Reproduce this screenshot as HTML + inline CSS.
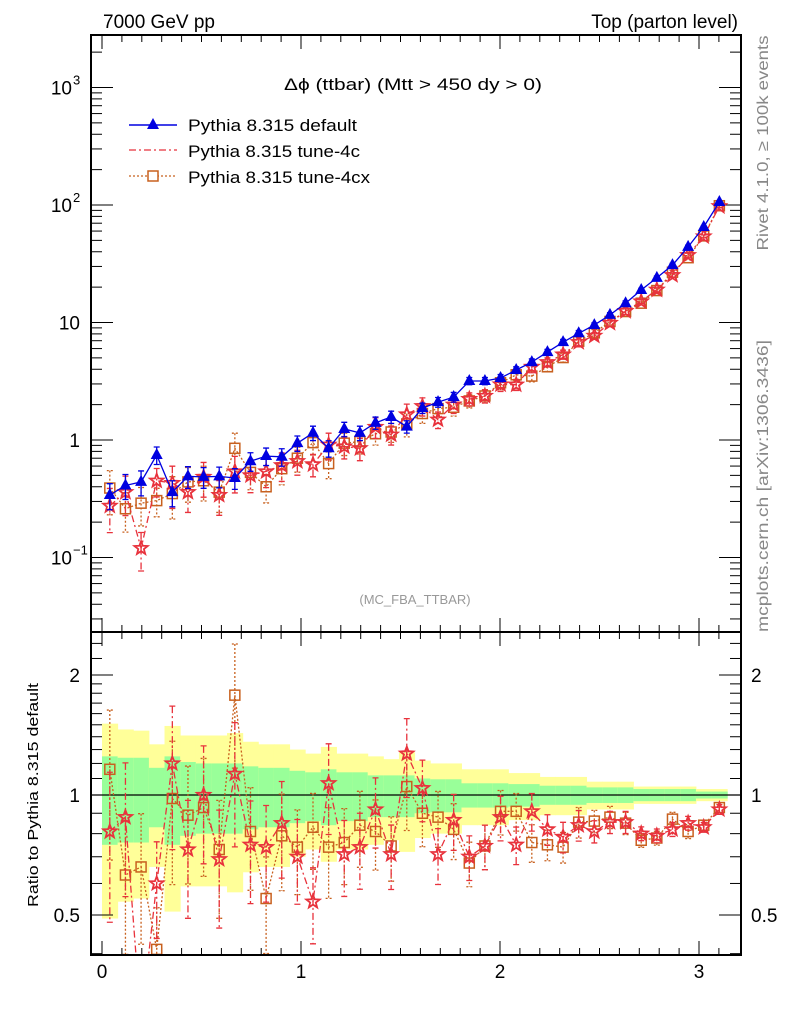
<!DOCTYPE html>
<html><head><meta charset="utf-8"><style>
html,body{margin:0;padding:0;background:#fff;overflow:hidden;width:786px;height:1024px;}
svg{display:block;font-family:"Liberation Sans",sans-serif;}
</style></head><body>
<svg id="chart" width="786" height="1024" viewBox="0 0 786 1024" xmlns="http://www.w3.org/2000/svg">
<defs>
<clipPath id="cm"><rect x="91" y="35" width="650" height="597"/></clipPath>
<clipPath id="cr"><rect x="91" y="632" width="650" height="323"/></clipPath>
</defs>
<g id="bands" clip-path="url(#cr)"></g>
<g id="grid"></g>
<g id="series"></g>
<rect x="91" y="35" width="650" height="597" fill="none" stroke="#000" stroke-width="2"/>
<rect x="91" y="632" width="650" height="323" fill="none" stroke="#000" stroke-width="2"/>
<text x="103" y="28" font-size="19">7000 GeV pp</text>
<text x="738" y="28" font-size="19" text-anchor="end">Top (parton level)</text>
<text x="413" y="90" font-size="17" text-anchor="middle" textLength="258" lengthAdjust="spacingAndGlyphs">Δϕ (ttbar) (Mtt &gt; 450 dy &gt; 0)</text>
<text x="415" y="604" font-size="13" fill="#999" text-anchor="middle">(MC_FBA_TTBAR)</text>
<text transform="translate(768,143) rotate(-90)" font-size="16" fill="#888" text-anchor="middle" textLength="215" lengthAdjust="spacingAndGlyphs">Rivet 4.1.0, ≥ 100k events</text>
<text transform="translate(768,486) rotate(-90)" font-size="16" fill="#888" text-anchor="middle" textLength="292" lengthAdjust="spacingAndGlyphs">mcplots.cern.ch [arXiv:1306.3436]</text>
<text transform="translate(38,795) rotate(-90)" font-size="15" text-anchor="middle" textLength="224" lengthAdjust="spacingAndGlyphs">Ratio to Pythia 8.315 default</text>
<g id="legend">
<line x1="129" y1="125" x2="177" y2="125" stroke="#0000e0" stroke-width="1.5"/>
<polygon points="153,118 159,129 147,129" fill="#0000e0"/>
<text x="188" y="131" font-size="17" textLength="169" lengthAdjust="spacingAndGlyphs">Pythia 8.315 default</text>
<line x1="129" y1="150" x2="177" y2="150" stroke="#e8323c" stroke-width="1.3" stroke-dasharray="7,3,2,3"/>
<text x="188" y="157" font-size="17" textLength="172" lengthAdjust="spacingAndGlyphs">Pythia 8.315 tune-4c</text>
<line x1="129" y1="176" x2="177" y2="176" stroke="#c8601e" stroke-width="1.3" stroke-dasharray="2,2"/>
<rect x="148" y="171" width="10" height="10" fill="#fff" stroke="#c8601e" stroke-width="1.5"/>
<text x="188" y="183" font-size="17" textLength="182" lengthAdjust="spacingAndGlyphs">Pythia 8.315 tune-4cx</text>
</g>
</svg>
<script>
const nBins = 40;
const xMin = 0, xMax = Math.PI;
const defaultVals = [0.34,0.41,0.44,0.745,0.36,0.49,0.485,0.49,0.475,0.66,0.73,0.72,0.94,1.15,0.85,1.24,1.15,1.40,1.57,1.30,1.87,2.10,2.32,3.18,3.18,3.37,3.94,4.6,5.6,6.8,8.1,9.5,11.6,14.6,18.9,24.0,30.8,44,65,106];
const tune4cVals = [0.275,0.36,0.12,0.45,0.43,0.36,0.485,0.34,0.54,0.50,0.54,0.61,0.66,0.62,0.91,0.88,0.85,1.29,1.11,1.65,1.94,1.49,2.0,2.23,2.37,2.97,2.96,4.19,4.59,5.34,6.8,7.7,9.9,12.5,15.1,19.0,25.3,37.4,54,97.5];
const tune4cxVals = [0.39,0.26,0.29,0.305,0.35,0.44,0.45,0.36,0.85,0.53,0.40,0.57,0.70,0.95,0.63,0.94,0.97,1.13,1.17,1.37,1.68,1.85,1.90,2.15,2.37,3.07,3.59,3.50,4.2,5.03,6.93,8.17,10.2,12.4,14.6,18.7,26.8,35.6,54.6,98.6];
const ratio4c = [0.81,0.88,0.27,0.60,1.20,0.73,1.0,0.69,1.13,0.75,0.74,0.85,0.70,0.54,1.07,0.71,0.74,0.92,0.71,1.27,1.04,0.71,0.865,0.70,0.745,0.88,0.75,0.91,0.82,0.785,0.84,0.81,0.855,0.855,0.80,0.79,0.82,0.85,0.83,0.92];
const ratio4cx = [1.16,0.63,0.66,0.41,0.98,0.89,0.93,0.73,1.78,0.81,0.55,0.79,0.74,0.83,0.74,0.76,0.84,0.81,0.745,1.05,0.90,0.88,0.82,0.675,0.745,0.91,0.91,0.76,0.75,0.74,0.855,0.86,0.88,0.85,0.77,0.78,0.87,0.81,0.84,0.93];
const bandYellow = [0.51,0.46,0.45,0.34,0.49,0.41,0.41,0.41,0.43,0.36,0.34,0.34,0.30,0.27,0.32,0.27,0.27,0.25,0.23,0.28,0.22,0.20,0.20,0.16,0.16,0.16,0.135,0.135,0.11,0.11,0.11,0.08,0.08,0.08,0.05,0.05,0.05,0.05,0.035,0.035];
const bandGreen = [0.25,0.24,0.24,0.17,0.25,0.21,0.20,0.20,0.20,0.18,0.17,0.17,0.15,0.14,0.16,0.14,0.14,0.12,0.12,0.12,0.10,0.095,0.095,0.07,0.07,0.07,0.065,0.065,0.055,0.055,0.055,0.045,0.045,0.045,0.035,0.035,0.035,0.035,0.02,0.02];
const xTickLabels = ["0","1","2","3"];
const mainTickLabels = [["10","3",3],["10","2",2],["10","",1],["1","",0],["10","−1",-1]];
const ratioTickLabels = [["2",2],["1",1],["0.5",0.5]];

const NS = "http://www.w3.org/2000/svg";
const sx = x => 102 + 199 * x;
const sy = v => 440 - 117.5 * Math.log10(v);
const sr = r => 795 - 398.7 * Math.log10(r);
const bw = (xMax - xMin) / nBins;
const cx = i => xMin + (i + 0.5) * bw;
function mk(tag, attrs, parent) { const e = document.createElementNS(NS, tag); for (const k in attrs) e.setAttribute(k, attrs[k]); parent.appendChild(e); return e; }
const svg = document.getElementById('chart');
const bands = document.getElementById('bands');
const grid = document.getElementById('grid');
const series = document.getElementById('series');

for (let i = 0; i < nBins; i++) {
  const x0 = sx(xMin + i * bw), x1 = sx(xMin + (i + 1) * bw);
  const y = mk('rect', {x: x0, y: sr(1 + bandYellow[i]), width: x1 - x0 + 0.5, height: sr(1 - bandYellow[i]) - sr(1 + bandYellow[i]), fill: '#ffff99'}, bands);
  
  
  const g = mk('rect', {x: x0, y: sr(1 + bandGreen[i]), width: x1 - x0 + 0.5, height: sr(1 - bandGreen[i]) - sr(1 + bandGreen[i]), fill: '#99ff99'}, bands);
  
  
}
const ref = mk('line', {x1: 91, x2: 741, y1: sr(1), y2: sr(1), stroke: '#000', 'stroke-width': 1.3}, grid);



for (let k = 0; k <= 31; k++) {
  const x = sx(k / 10), major = k % 10 === 0;
  const len = major ? 14 : 7;
  for (const [yb, dir] of [[35, 1], [632, -1], [632, 1], [955, -1]]) {
    const t = mk('line', {x1: x, x2: x, y1: yb, y2: yb + dir * len, stroke: '#000', 'stroke-width': 1}, grid);
    
    
  }
}
xTickLabels.forEach((s, k) => {
  const t = mk('text', {x: sx(k), y: 978, 'font-size': 19, 'text-anchor': 'middle'}, svg);
  t.textContent = s;
  
  
});
for (let d = -2; d <= 3; d++) {
  for (let m = 1; m <= 9; m++) {
    const v = m * Math.pow(10, d), y = sy(v);
    if (y < 36 || y > 631) continue;
    const len = m === 1 ? 22 : 11;
    for (const [xb, dir] of [[91, 1], [741, -1]]) {
      const t = mk('line', {x1: xb, x2: xb + dir * len, y1: y, y2: y, stroke: '#000', 'stroke-width': 1}, grid);
      
      
    }
  }
}
mainTickLabels.forEach(([b, e, p]) => {
  const t = mk('text', {x: e ? 72 : 80, y: sy(Math.pow(10, p)) + 7, 'font-size': 19, 'text-anchor': 'end'}, svg);
  t.textContent = b;
  
  
  if (e) {
    const s = mk('text', {x: 73, y: sy(Math.pow(10, p)) - 3, 'font-size': 13}, svg);
    s.textContent = e;
    
    
  }
});
for (const v of [0.4,0.5,0.6,0.7,0.8,0.9,1,2]) {
  const y = sr(v), major = (v === 0.5 || v === 1 || v === 2);
  for (const [xb, dir] of [[91, 1], [741, -1]]) {
    const t = mk('line', {x1: xb, x2: xb + dir * (major ? 22 : 11), y1: y, y2: y, stroke: '#000', 'stroke-width': 1}, grid);
    
    
  }
}
for (const v of [1.1,1.2,1.3,1.4,1.5,1.6,1.7,1.8,1.9,2.2,2.4]) {
  const y = sr(v);
  for (const [xb, dir] of [[91, 1], [741, -1]]) {
    const t = mk('line', {x1: xb, x2: xb + dir * 11, y1: y, y2: y, stroke: '#000', 'stroke-width': 1}, grid);
    
    
  }
}
ratioTickLabels.forEach(([s, v]) => {
  const l = mk('text', {x: 80, y: sr(v) + 7, 'font-size': 19, 'text-anchor': 'end'}, svg);
  l.textContent = s;
  
  
  const r = mk('text', {x: 751, y: sr(v) + 7, 'font-size': 19}, svg);
  r.textContent = s;
  
  
});

function star(x, y, r) {
  let p = [];
  for (let k = 0; k < 10; k++) { const a = -Math.PI / 2 + k * Math.PI / 5, rr = k % 2 ? r * 0.42 : r; p.push((x + rr * Math.cos(a)).toFixed(1) + ',' + (y + rr * Math.sin(a)).toFixed(1)); }
  return p.join(' ');
}
function drawSeries(vals, errs, yf, clip, color, dash, marker, name) {
  const g = mk('g', {'clip-path': 'url(#' + clip + ')'}, series);
  
  
  const pts = vals.map((v, i) => sx(cx(i)).toFixed(1) + ',' + yf(v).toFixed(1)).join(' ');
  const pl = mk('polyline', {points: pts, fill: 'none', stroke: color, 'stroke-width': 1.3, 'stroke-dasharray': dash}, g);
  
  
  vals.forEach((v, i) => {
    const x = sx(cx(i)), e = errs[i];
    const y1 = yf(v * (1 + e)), y2 = yf(Math.max(v * (1 - e), 1e-3));
    const eb = mk('path', {d: `M${x},${y1}V${y2}M${x - 3},${y1}H${x + 3}M${x - 3},${y2}H${x + 3}`, stroke: color, 'stroke-width': 1.3, 'stroke-dasharray': dash, fill: 'none'}, g);
    
    
    const y = yf(v);
    let m;
    if (marker === 'tri') m = mk('polygon', {points: `${x},${y - 7} ${x + 6},${y + 4} ${x - 6},${y + 4}`, fill: color}, g);
    else if (marker === 'star') m = mk('polygon', {points: star(x, y, 7), fill: 'none', stroke: color, 'stroke-width': 1.8}, g);
    else m = mk('rect', {x: x - 5, y: y - 5, width: 10, height: 10, fill: 'none', stroke: color, 'stroke-width': 1.5}, g);
    
    
  });
}
const errT = bandYellow.map(e => e * 0.8);
drawSeries(tune4cxVals, errT, sy, 'cm', '#c8601e', '2,2', 'sq', 'tune-4cx-series');
drawSeries(tune4cVals, errT, sy, 'cm', '#e8323c', '7,3,2,3', 'star', 'tune-4c-series');
drawSeries(defaultVals, bandGreen, sy, 'cm', '#0000e0', '', 'tri', 'default-series');
drawSeries(ratio4cx, errT, sr, 'cr', '#c8601e', '2,2', 'sq', 'tune-4cx-ratio');
drawSeries(ratio4c, errT, sr, 'cr', '#e8323c', '7,3,2,3', 'star', 'tune-4c-ratio');
</script>
</body></html>
